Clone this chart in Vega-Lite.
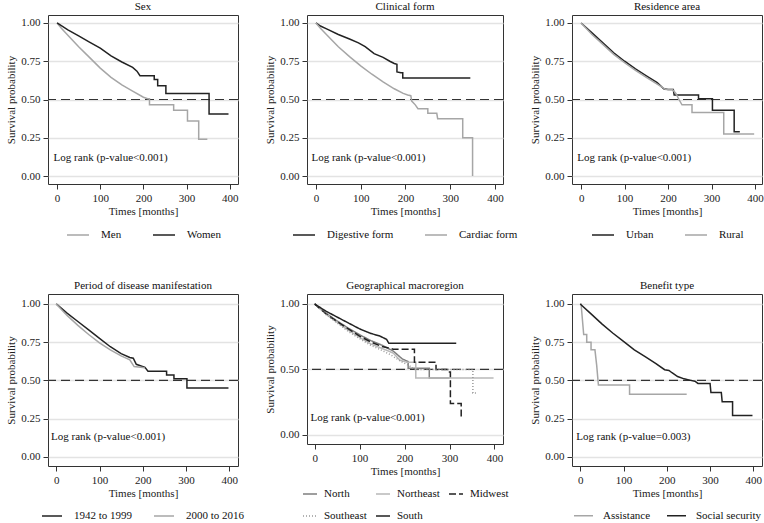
{
  "$schema": "https://vega.github.io/schema/vega-lite/v6.json",
  "background": "white",
  "padding": {"left": 5, "top": 0, "right": 0, "bottom": 0},
  "columns": 3,
  "bounds": "flush",
  "spacing": {"row": 110, "column": 69},
  "resolve": {
    "scale": {"color": "independent", "strokeDash": "independent", "x": "independent", "y": "independent"},
    "legend": {"color": "independent", "strokeDash": "independent"}
  },
  "config": {
    "font": "Liberation Serif",
    "view": {"stroke": "#333333", "strokeWidth": 1},
    "title": {"font": "Liberation Serif", "fontSize": 11, "fontWeight": "normal", "color": "#111111", "offset": 3},
    "axis": {
      "labelFont": "Liberation Serif", "titleFont": "Liberation Serif",
      "labelFontSize": 11, "titleFontSize": 11, "titleFontWeight": "normal",
      "labelColor": "#222222", "titleColor": "#222222",
      "tickColor": "#333333", "tickSize": 5, "labelPadding": 3,
      "domain": false, "grid": false
    },
    "axisY": {"grid": true, "gridColor": "#e3e3e3", "gridWidth": 1.5, "titlePadding": 4},
    "axisX": {"titlePadding": 2},
    "legend": {
      "orient": "bottom", "direction": "horizontal", "title": null,
      "labelFont": "Liberation Serif", "labelFontSize": 11, "labelColor": "#111111",
      "symbolSize": 484, "symbolStrokeWidth": 1.5, "symbolType": "stroke",
      "labelOffset": 11, "columnPadding": 28, "rowPadding": 8, "offset": 7, "padding": 0,
      "layout": {"bottom": {"anchor": "middle"}}
    }
  },
  "concat": [
    {
      "width": 190, "height": 169, "title": "Sex",
      "layer": [
        {"data": {"values": [{"s": 0.5}]}, "mark": {"type": "rule", "color": "#333333", "strokeDash": [9, 5], "strokeWidth": 1.2},
         "encoding": {"y": {"field": "s", "type": "quantitative", "title": "Survival probability", "scale": {"domain": [-0.052, 1.052], "nice": false, "zero": false}, "axis": {"values": [0, 0.25, 0.5, 0.75, 1], "format": ".2f"}}}},
        {"data": {"values": [
          {"g": "Men", "t": 0, "s": 1}, {"g": "Men", "t": 10, "s": 0.965}, {"g": "Men", "t": 25, "s": 0.92}, {"g": "Men", "t": 50, "s": 0.845}, {"g": "Men", "t": 75, "s": 0.775}, {"g": "Men", "t": 100, "s": 0.705}, {"g": "Men", "t": 125, "s": 0.645}, {"g": "Men", "t": 150, "s": 0.595}, {"g": "Men", "t": 175, "s": 0.555}, {"g": "Men", "t": 200, "s": 0.515}, {"g": "Men", "t": 210, "s": 0.505}, {"g": "Men", "t": 214, "s": 0.505}, {"g": "Men", "t": 214, "s": 0.465}, {"g": "Men", "t": 270, "s": 0.465}, {"g": "Men", "t": 270, "s": 0.43}, {"g": "Men", "t": 302, "s": 0.43}, {"g": "Men", "t": 302, "s": 0.36}, {"g": "Men", "t": 328, "s": 0.36}, {"g": "Men", "t": 328, "s": 0.24}, {"g": "Men", "t": 348, "s": 0.24},
          {"g": "Women", "t": 0, "s": 1}, {"g": "Women", "t": 25, "s": 0.955}, {"g": "Women", "t": 50, "s": 0.915}, {"g": "Women", "t": 75, "s": 0.875}, {"g": "Women", "t": 100, "s": 0.835}, {"g": "Women", "t": 125, "s": 0.785}, {"g": "Women", "t": 150, "s": 0.745}, {"g": "Women", "t": 175, "s": 0.71}, {"g": "Women", "t": 185, "s": 0.685}, {"g": "Women", "t": 192, "s": 0.655}, {"g": "Women", "t": 225, "s": 0.655}, {"g": "Women", "t": 225, "s": 0.63}, {"g": "Women", "t": 233, "s": 0.63}, {"g": "Women", "t": 233, "s": 0.59}, {"g": "Women", "t": 252, "s": 0.59}, {"g": "Women", "t": 252, "s": 0.54}, {"g": "Women", "t": 352, "s": 0.54}, {"g": "Women", "t": 352, "s": 0.405}, {"g": "Women", "t": 397, "s": 0.405}
        ]},
         "mark": {"type": "line", "strokeWidth": 1.5},
         "encoding": {
           "x": {"field": "t", "type": "quantitative", "title": "Times [months]", "scale": {"domain": [-21, 419], "nice": false, "zero": false}, "axis": {"values": [0, 100, 200, 300, 400]}},
           "y": {"field": "s", "type": "quantitative", "title": "Survival probability"},
           "color": {"field": "g", "type": "nominal", "scale": {"domain": ["Men", "Women"], "range": ["#a6a6a6", "#222222"]}}
         }},
        {"data": {"values": [{"t": -8, "s": 0.12, "label": "Log rank (p-value<0.001)"}]},
         "mark": {"type": "text", "align": "left", "baseline": "middle", "font": "Liberation Serif", "fontSize": 11, "color": "#111111"},
         "encoding": {"x": {"field": "t", "type": "quantitative", "title": "Times [months]"}, "y": {"field": "s", "type": "quantitative", "title": "Survival probability"}, "text": {"field": "label"}}}
      ]
    },
    {
      "width": 196, "height": 169, "title": "Clinical form",
      "layer": [
        {"data": {"values": [{"s": 0.5}]}, "mark": {"type": "rule", "color": "#333333", "strokeDash": [9, 5], "strokeWidth": 1.2},
         "encoding": {"y": {"field": "s", "type": "quantitative", "title": "Survival probability", "scale": {"domain": [-0.052, 1.052], "nice": false, "zero": false}, "axis": {"values": [0, 0.25, 0.5, 0.75, 1], "format": ".2f"}}}},
        {"data": {"values": [
          {"g": "Digestive form", "t": 0, "s": 1}, {"g": "Digestive form", "t": 10, "s": 0.98}, {"g": "Digestive form", "t": 25, "s": 0.96}, {"g": "Digestive form", "t": 50, "s": 0.925}, {"g": "Digestive form", "t": 75, "s": 0.895}, {"g": "Digestive form", "t": 95, "s": 0.87}, {"g": "Digestive form", "t": 110, "s": 0.845}, {"g": "Digestive form", "t": 130, "s": 0.80}, {"g": "Digestive form", "t": 150, "s": 0.775}, {"g": "Digestive form", "t": 165, "s": 0.75}, {"g": "Digestive form", "t": 175, "s": 0.735}, {"g": "Digestive form", "t": 181, "s": 0.73}, {"g": "Digestive form", "t": 181, "s": 0.68}, {"g": "Digestive form", "t": 190, "s": 0.675}, {"g": "Digestive form", "t": 194, "s": 0.675}, {"g": "Digestive form", "t": 194, "s": 0.64}, {"g": "Digestive form", "t": 345, "s": 0.64},
          {"g": "Cardiac form", "t": 0, "s": 1}, {"g": "Cardiac form", "t": 10, "s": 0.965}, {"g": "Cardiac form", "t": 25, "s": 0.92}, {"g": "Cardiac form", "t": 50, "s": 0.845}, {"g": "Cardiac form", "t": 75, "s": 0.78}, {"g": "Cardiac form", "t": 100, "s": 0.72}, {"g": "Cardiac form", "t": 125, "s": 0.665}, {"g": "Cardiac form", "t": 150, "s": 0.615}, {"g": "Cardiac form", "t": 175, "s": 0.57}, {"g": "Cardiac form", "t": 195, "s": 0.54}, {"g": "Cardiac form", "t": 205, "s": 0.53}, {"g": "Cardiac form", "t": 212, "s": 0.525}, {"g": "Cardiac form", "t": 214, "s": 0.49}, {"g": "Cardiac form", "t": 222, "s": 0.465}, {"g": "Cardiac form", "t": 228, "s": 0.44}, {"g": "Cardiac form", "t": 250, "s": 0.44}, {"g": "Cardiac form", "t": 250, "s": 0.41}, {"g": "Cardiac form", "t": 270, "s": 0.41}, {"g": "Cardiac form", "t": 272, "s": 0.375}, {"g": "Cardiac form", "t": 328, "s": 0.375}, {"g": "Cardiac form", "t": 328, "s": 0.25}, {"g": "Cardiac form", "t": 350, "s": 0.25}, {"g": "Cardiac form", "t": 350, "s": 0.0}
        ]},
         "mark": {"type": "line", "strokeWidth": 1.5},
         "encoding": {
           "x": {"field": "t", "type": "quantitative", "title": "Times [months]", "scale": {"domain": [-20, 418], "nice": false, "zero": false}, "axis": {"values": [0, 100, 200, 300, 400]}},
           "y": {"field": "s", "type": "quantitative", "title": "Survival probability"},
           "color": {"field": "g", "type": "nominal", "scale": {"domain": ["Digestive form", "Cardiac form"], "range": ["#222222", "#a6a6a6"]}}
         }},
        {"data": {"values": [{"t": -10, "s": 0.12, "label": "Log rank (p-value<0.001)"}]},
         "mark": {"type": "text", "align": "left", "baseline": "middle", "font": "Liberation Serif", "fontSize": 11, "color": "#111111"},
         "encoding": {"x": {"field": "t", "type": "quantitative", "title": "Times [months]"}, "y": {"field": "s", "type": "quantitative", "title": "Survival probability"}, "text": {"field": "label"}}}
      ]
    },
    {
      "width": 190, "height": 169, "title": "Residence area",
      "layer": [
        {"data": {"values": [{"s": 0.5}]}, "mark": {"type": "rule", "color": "#333333", "strokeDash": [9, 5], "strokeWidth": 1.2},
         "encoding": {"y": {"field": "s", "type": "quantitative", "title": "Survival probability", "scale": {"domain": [-0.052, 1.052], "nice": false, "zero": false}, "axis": {"values": [0, 0.25, 0.5, 0.75, 1], "format": ".2f"}}}},
        {"data": {"values": [
          {"g": "Urban", "t": 0, "s": 1}, {"g": "Urban", "t": 25, "s": 0.935}, {"g": "Urban", "t": 50, "s": 0.87}, {"g": "Urban", "t": 75, "s": 0.805}, {"g": "Urban", "t": 100, "s": 0.75}, {"g": "Urban", "t": 125, "s": 0.70}, {"g": "Urban", "t": 150, "s": 0.655}, {"g": "Urban", "t": 175, "s": 0.61}, {"g": "Urban", "t": 190, "s": 0.57}, {"g": "Urban", "t": 200, "s": 0.565}, {"g": "Urban", "t": 212, "s": 0.565}, {"g": "Urban", "t": 214, "s": 0.53}, {"g": "Urban", "t": 270, "s": 0.53}, {"g": "Urban", "t": 270, "s": 0.505}, {"g": "Urban", "t": 302, "s": 0.505}, {"g": "Urban", "t": 302, "s": 0.43}, {"g": "Urban", "t": 352, "s": 0.43}, {"g": "Urban", "t": 352, "s": 0.29}, {"g": "Urban", "t": 365, "s": 0.29},
          {"g": "Rural", "t": 0, "s": 1}, {"g": "Rural", "t": 25, "s": 0.925}, {"g": "Rural", "t": 50, "s": 0.86}, {"g": "Rural", "t": 75, "s": 0.795}, {"g": "Rural", "t": 100, "s": 0.74}, {"g": "Rural", "t": 125, "s": 0.69}, {"g": "Rural", "t": 150, "s": 0.645}, {"g": "Rural", "t": 175, "s": 0.60}, {"g": "Rural", "t": 195, "s": 0.565}, {"g": "Rural", "t": 210, "s": 0.565}, {"g": "Rural", "t": 218, "s": 0.54}, {"g": "Rural", "t": 225, "s": 0.50}, {"g": "Rural", "t": 232, "s": 0.465}, {"g": "Rural", "t": 255, "s": 0.465}, {"g": "Rural", "t": 255, "s": 0.415}, {"g": "Rural", "t": 328, "s": 0.415}, {"g": "Rural", "t": 328, "s": 0.275}, {"g": "Rural", "t": 398, "s": 0.275}
        ]},
         "mark": {"type": "line", "strokeWidth": 1.5},
         "encoding": {
           "x": {"field": "t", "type": "quantitative", "title": "Times [months]", "scale": {"domain": [-21, 416], "nice": false, "zero": false}, "axis": {"values": [0, 100, 200, 300, 400]}},
           "y": {"field": "s", "type": "quantitative", "title": "Survival probability"},
           "color": {"field": "g", "type": "nominal", "scale": {"domain": ["Urban", "Rural"], "range": ["#222222", "#a6a6a6"]}}
         }},
        {"data": {"values": [{"t": -9, "s": 0.12, "label": "Log rank (p-value<0.001)"}]},
         "mark": {"type": "text", "align": "left", "baseline": "middle", "font": "Liberation Serif", "fontSize": 11, "color": "#111111"},
         "encoding": {"x": {"field": "t", "type": "quantitative", "title": "Times [months]"}, "y": {"field": "s", "type": "quantitative", "title": "Survival probability"}, "text": {"field": "label"}}}
      ]
    },
    {
      "width": 190, "height": 172, "title": "Period of disease manifestation",
      "layer": [
        {"data": {"values": [{"s": 0.5}]}, "mark": {"type": "rule", "color": "#333333", "strokeDash": [9, 5], "strokeWidth": 1.2},
         "encoding": {"y": {"field": "s", "type": "quantitative", "title": "Survival probability", "scale": {"domain": [-0.06, 1.065], "nice": false, "zero": false}, "axis": {"values": [0, 0.25, 0.5, 0.75, 1], "format": ".2f"}}}},
        {"data": {"values": [
          {"g": "1942 to 1999", "t": 0, "s": 1}, {"g": "1942 to 1999", "t": 25, "s": 0.94}, {"g": "1942 to 1999", "t": 50, "s": 0.885}, {"g": "1942 to 1999", "t": 75, "s": 0.83}, {"g": "1942 to 1999", "t": 100, "s": 0.775}, {"g": "1942 to 1999", "t": 125, "s": 0.72}, {"g": "1942 to 1999", "t": 150, "s": 0.675}, {"g": "1942 to 1999", "t": 170, "s": 0.65}, {"g": "1942 to 1999", "t": 178, "s": 0.645}, {"g": "1942 to 1999", "t": 185, "s": 0.605}, {"g": "1942 to 1999", "t": 205, "s": 0.585}, {"g": "1942 to 1999", "t": 212, "s": 0.56}, {"g": "1942 to 1999", "t": 255, "s": 0.56}, {"g": "1942 to 1999", "t": 255, "s": 0.535}, {"g": "1942 to 1999", "t": 272, "s": 0.535}, {"g": "1942 to 1999", "t": 272, "s": 0.51}, {"g": "1942 to 1999", "t": 302, "s": 0.51}, {"g": "1942 to 1999", "t": 302, "s": 0.45}, {"g": "1942 to 1999", "t": 398, "s": 0.45},
          {"g": "2000 to 2016", "t": 0, "s": 1}, {"g": "2000 to 2016", "t": 25, "s": 0.925}, {"g": "2000 to 2016", "t": 50, "s": 0.86}, {"g": "2000 to 2016", "t": 75, "s": 0.80}, {"g": "2000 to 2016", "t": 100, "s": 0.745}, {"g": "2000 to 2016", "t": 125, "s": 0.70}, {"g": "2000 to 2016", "t": 150, "s": 0.66}, {"g": "2000 to 2016", "t": 170, "s": 0.635}, {"g": "2000 to 2016", "t": 180, "s": 0.59}, {"g": "2000 to 2016", "t": 200, "s": 0.585}, {"g": "2000 to 2016", "t": 205, "s": 0.58}
        ]},
         "mark": {"type": "line", "strokeWidth": 1.5},
         "encoding": {
           "x": {"field": "t", "type": "quantitative", "title": "Times [months]", "scale": {"domain": [-19, 420], "nice": false, "zero": false}, "axis": {"values": [0, 100, 200, 300, 400]}},
           "y": {"field": "s", "type": "quantitative", "title": "Survival probability"},
           "color": {"field": "g", "type": "nominal", "scale": {"domain": ["1942 to 1999", "2000 to 2016"], "range": ["#222222", "#a6a6a6"]}, "legend": {"columnPadding": 18, "symbolSize": 400}}
         }},
        {"data": {"values": [{"t": -12, "s": 0.13, "label": "Log rank (p-value<0.001)"}]},
         "mark": {"type": "text", "align": "left", "baseline": "middle", "font": "Liberation Serif", "fontSize": 11, "color": "#111111"},
         "encoding": {"x": {"field": "t", "type": "quantitative", "title": "Times [months]"}, "y": {"field": "s", "type": "quantitative", "title": "Survival probability"}, "text": {"field": "label"}}}
      ]
    },
    {
      "width": 196, "height": 150, "title": "Geographical macroregion",
      "layer": [
        {"data": {"values": [{"s": 0.5}]}, "mark": {"type": "rule", "color": "#333333", "strokeDash": [9, 5], "strokeWidth": 1.2},
         "encoding": {"y": {"field": "s", "type": "quantitative", "title": "Survival probability", "scale": {"domain": [-0.069, 1.076], "nice": false, "zero": false}, "axis": {"values": [0, 0.25, 0.5, 0.75, 1], "format": ".2f"}}}},
        {"data": {"values": [
          {"g": "North", "t": 0, "s": 1}, {"g": "North", "t": 25, "s": 0.93}, {"g": "North", "t": 50, "s": 0.87}, {"g": "North", "t": 75, "s": 0.815}, {"g": "North", "t": 100, "s": 0.765}, {"g": "North", "t": 125, "s": 0.72}, {"g": "North", "t": 150, "s": 0.685}, {"g": "North", "t": 175, "s": 0.64}, {"g": "North", "t": 195, "s": 0.58}, {"g": "North", "t": 208, "s": 0.56}, {"g": "North", "t": 208, "s": 0.51}, {"g": "North", "t": 255, "s": 0.51}, {"g": "North", "t": 255, "s": 0.435}, {"g": "North", "t": 300, "s": 0.435},
          {"g": "Northeast", "t": 0, "s": 1}, {"g": "Northeast", "t": 25, "s": 0.925}, {"g": "Northeast", "t": 50, "s": 0.86}, {"g": "Northeast", "t": 75, "s": 0.80}, {"g": "Northeast", "t": 100, "s": 0.745}, {"g": "Northeast", "t": 125, "s": 0.695}, {"g": "Northeast", "t": 150, "s": 0.66}, {"g": "Northeast", "t": 175, "s": 0.625}, {"g": "Northeast", "t": 190, "s": 0.57}, {"g": "Northeast", "t": 205, "s": 0.555}, {"g": "Northeast", "t": 225, "s": 0.555}, {"g": "Northeast", "t": 225, "s": 0.435}, {"g": "Northeast", "t": 398, "s": 0.435},
          {"g": "Midwest", "t": 0, "s": 1}, {"g": "Midwest", "t": 25, "s": 0.925}, {"g": "Midwest", "t": 50, "s": 0.865}, {"g": "Midwest", "t": 75, "s": 0.81}, {"g": "Midwest", "t": 100, "s": 0.755}, {"g": "Midwest", "t": 125, "s": 0.71}, {"g": "Midwest", "t": 150, "s": 0.675}, {"g": "Midwest", "t": 175, "s": 0.655}, {"g": "Midwest", "t": 222, "s": 0.655}, {"g": "Midwest", "t": 222, "s": 0.555}, {"g": "Midwest", "t": 270, "s": 0.555}, {"g": "Midwest", "t": 270, "s": 0.50}, {"g": "Midwest", "t": 300, "s": 0.50}, {"g": "Midwest", "t": 300, "s": 0.48}, {"g": "Midwest", "t": 302, "s": 0.48}, {"g": "Midwest", "t": 302, "s": 0.24}, {"g": "Midwest", "t": 326, "s": 0.24}, {"g": "Midwest", "t": 326, "s": 0.14}, {"g": "Midwest", "t": 330, "s": 0.14},
          {"g": "Southeast", "t": 0, "s": 1}, {"g": "Southeast", "t": 25, "s": 0.92}, {"g": "Southeast", "t": 50, "s": 0.855}, {"g": "Southeast", "t": 75, "s": 0.79}, {"g": "Southeast", "t": 100, "s": 0.735}, {"g": "Southeast", "t": 125, "s": 0.685}, {"g": "Southeast", "t": 150, "s": 0.645}, {"g": "Southeast", "t": 170, "s": 0.61}, {"g": "Southeast", "t": 190, "s": 0.565}, {"g": "Southeast", "t": 210, "s": 0.53}, {"g": "Southeast", "t": 222, "s": 0.50}, {"g": "Southeast", "t": 352, "s": 0.50}, {"g": "Southeast", "t": 352, "s": 0.32}, {"g": "Southeast", "t": 362, "s": 0.32},
          {"g": "South", "t": 0, "s": 1}, {"g": "South", "t": 25, "s": 0.945}, {"g": "South", "t": 50, "s": 0.90}, {"g": "South", "t": 75, "s": 0.855}, {"g": "South", "t": 100, "s": 0.81}, {"g": "South", "t": 125, "s": 0.775}, {"g": "South", "t": 145, "s": 0.755}, {"g": "South", "t": 160, "s": 0.73}, {"g": "South", "t": 165, "s": 0.70}, {"g": "South", "t": 315, "s": 0.70}
        ]},
         "mark": {"type": "line", "strokeWidth": 1.5},
         "encoding": {
           "x": {"field": "t", "type": "quantitative", "title": "Times [months]", "scale": {"domain": [-17, 419], "nice": false, "zero": false}, "axis": {"values": [0, 100, 200, 300, 400]}},
           "y": {"field": "s", "type": "quantitative", "title": "Survival probability"},
           "color": {"field": "g", "type": "nominal", "scale": {"domain": ["North", "Northeast", "Midwest", "Southeast", "South"], "range": ["#7f7f7f", "#b8b8b8", "#222222", "#999999", "#222222"]}, "legend": {"columns": 3, "symbolSize": 196, "labelOffset": 6, "columnPadding": 6, "rowPadding": 9, "offset": 10}},
           "strokeDash": {"field": "g", "type": "nominal", "scale": {"domain": ["North", "Northeast", "Midwest", "Southeast", "South"], "range": [[1, 0], [1, 0], [7, 3], [1, 2], [1, 0]]}, "legend": {"columns": 3, "symbolSize": 196, "labelOffset": 6, "columnPadding": 6, "rowPadding": 9, "offset": 10}}
         }},
        {"data": {"values": [{"t": -9, "s": 0.133, "label": "Log rank (p-value<0.001)"}]},
         "mark": {"type": "text", "align": "left", "baseline": "middle", "font": "Liberation Serif", "fontSize": 11, "color": "#111111"},
         "encoding": {"x": {"field": "t", "type": "quantitative", "title": "Times [months]"}, "y": {"field": "s", "type": "quantitative", "title": "Survival probability"}, "text": {"field": "label"}}}
      ]
    },
    {
      "width": 190, "height": 172, "title": "Benefit type",
      "layer": [
        {"data": {"values": [{"s": 0.5}]}, "mark": {"type": "rule", "color": "#333333", "strokeDash": [9, 5], "strokeWidth": 1.2},
         "encoding": {"y": {"field": "s", "type": "quantitative", "title": "Survival probability", "scale": {"domain": [-0.06, 1.065], "nice": false, "zero": false}, "axis": {"values": [0, 0.25, 0.5, 0.75, 1], "format": ".2f"}}}},
        {"data": {"values": [
          {"g": "Assistance", "t": 0, "s": 1}, {"g": "Assistance", "t": 2, "s": 1}, {"g": "Assistance", "t": 5, "s": 0.90}, {"g": "Assistance", "t": 8, "s": 0.80}, {"g": "Assistance", "t": 15, "s": 0.80}, {"g": "Assistance", "t": 15, "s": 0.75}, {"g": "Assistance", "t": 25, "s": 0.75}, {"g": "Assistance", "t": 25, "s": 0.70}, {"g": "Assistance", "t": 34, "s": 0.70}, {"g": "Assistance", "t": 38, "s": 0.60}, {"g": "Assistance", "t": 42, "s": 0.47}, {"g": "Assistance", "t": 114, "s": 0.47}, {"g": "Assistance", "t": 114, "s": 0.41}, {"g": "Assistance", "t": 246, "s": 0.41},
          {"g": "Social security", "t": 0, "s": 1}, {"g": "Social security", "t": 25, "s": 0.935}, {"g": "Social security", "t": 50, "s": 0.87}, {"g": "Social security", "t": 75, "s": 0.81}, {"g": "Social security", "t": 100, "s": 0.755}, {"g": "Social security", "t": 125, "s": 0.70}, {"g": "Social security", "t": 150, "s": 0.655}, {"g": "Social security", "t": 175, "s": 0.61}, {"g": "Social security", "t": 195, "s": 0.57}, {"g": "Social security", "t": 205, "s": 0.565}, {"g": "Social security", "t": 212, "s": 0.55}, {"g": "Social security", "t": 225, "s": 0.525}, {"g": "Social security", "t": 240, "s": 0.51}, {"g": "Social security", "t": 255, "s": 0.50}, {"g": "Social security", "t": 265, "s": 0.495}, {"g": "Social security", "t": 272, "s": 0.48}, {"g": "Social security", "t": 300, "s": 0.48}, {"g": "Social security", "t": 302, "s": 0.42}, {"g": "Social security", "t": 326, "s": 0.42}, {"g": "Social security", "t": 328, "s": 0.36}, {"g": "Social security", "t": 352, "s": 0.36}, {"g": "Social security", "t": 352, "s": 0.27}, {"g": "Social security", "t": 398, "s": 0.27}
        ]},
         "mark": {"type": "line", "strokeWidth": 1.5},
         "encoding": {
           "x": {"field": "t", "type": "quantitative", "title": "Times [months]", "scale": {"domain": [-19, 420], "nice": false, "zero": false}, "axis": {"values": [0, 100, 200, 300, 400]}},
           "y": {"field": "s", "type": "quantitative", "title": "Survival probability"},
           "color": {"field": "g", "type": "nominal", "scale": {"domain": ["Assistance", "Social security"], "range": ["#a6a6a6", "#222222"]}, "legend": {"columnPadding": 13, "symbolSize": 361, "labelOffset": 9}}
         }},
        {"data": {"values": [{"t": -9, "s": 0.13, "label": "Log rank (p-value=0.003)"}]},
         "mark": {"type": "text", "align": "left", "baseline": "middle", "font": "Liberation Serif", "fontSize": 11, "color": "#111111"},
         "encoding": {"x": {"field": "t", "type": "quantitative", "title": "Times [months]"}, "y": {"field": "s", "type": "quantitative", "title": "Survival probability"}, "text": {"field": "label"}}}
      ]
    }
  ]
}
